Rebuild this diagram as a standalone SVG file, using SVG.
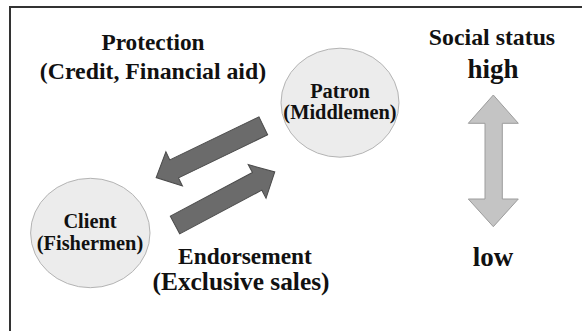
<svg xmlns="http://www.w3.org/2000/svg" width="582" height="331" viewBox="0 0 582 331">
  <style>
    .frame { fill: none; stroke: #333; stroke-width: 2; }
    .node { fill: #ececec; stroke: #b4b4b4; stroke-width: 1; }
    .flow { fill: #6b6b6b; stroke: #4a4a4a; stroke-width: 1; }
    .scale { fill: #c4c4c4; stroke: #9c9c9c; stroke-width: 1; }
    .nlabel { font-size: 20.4px; }
    .label { font-size: 23.8px; }
    .level { font-size: 27px; }
  </style>

  <!-- open frame: top and left edges -->
  <polyline class="frame" points="10,331 10,7 582,7"/>

  <!-- flows between the two parties -->
  <g id="connectors">
    <g id="protection-flow">
      <polygon class="flow" transform="translate(263.3,125.8) rotate(154.2)"
        points="0,-10 99,-10 99,-19 119,0 99,19 99,10 0,10"/>
    </g>
    <g id="endorsement-flow">
      <polygon class="flow" transform="translate(175,225) rotate(-28)"
        points="0,-10 93,-10 93,-19 113,0 93,19 93,10 0,10"/>
    </g>
  </g>

  <g font-family="Liberation Serif, Tinos, Times New Roman, serif" font-weight="bold" fill="#111" text-anchor="middle">
    <g id="patron">
      <ellipse class="node" cx="340" cy="102.7" rx="59" ry="54.5"/>
      <text class="nlabel" x="340" y="98">Patron</text>
      <text class="nlabel" x="340" y="119">(Middlemen)</text>
    </g>

    <g id="client">
      <ellipse class="node" cx="90.3" cy="233" rx="59.7" ry="54.7"/>
      <text class="nlabel" x="90" y="228">Client</text>
      <text class="nlabel" x="90" y="250">(Fishermen)</text>
    </g>

    <g id="protection-label">
      <text class="label" x="153" y="50" style="font-size:23.3px">Protection</text>
      <text class="label" x="153" y="79">(Credit, Financial aid)</text>
    </g>

    <g id="endorsement-label">
      <text class="label" x="245" y="264" style="font-size:23.4px">Endorsement</text>
      <text class="label" x="241" y="290" style="font-size:25.4px">(Exclusive sales)</text>
    </g>

    <!-- social status scale -->
    <g id="status-scale">
      <text class="label" x="492" y="45">Social status</text>
      <text class="level" x="493" y="78">high</text>
      <polygon class="scale" points="493.3,95 518.3,123.3 502.3,123.3 502.3,199 518.3,199 493.3,226.7 468.3,199 485,199 485,123.3 468.3,123.3"/>
      <text class="level" x="493" y="266">low</text>
    </g>
  </g>
</svg>
